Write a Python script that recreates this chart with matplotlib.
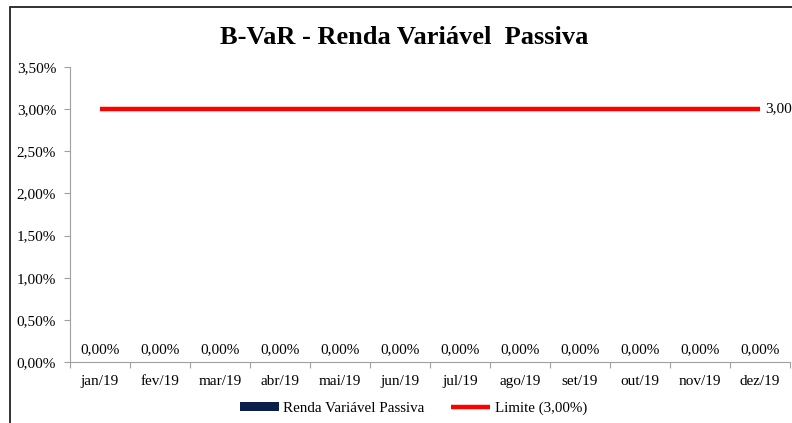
import numpy as np
import matplotlib.pyplot as plt
from matplotlib.patches import Rectangle
from matplotlib.ticker import FixedLocator, FuncFormatter

meses = ['jan/19', 'fev/19', 'mar/19', 'abr/19', 'mai/19', 'jun/19',
         'jul/19', 'ago/19', 'set/19', 'out/19', 'nov/19', 'dez/19']
bvar = [0.0] * 12          # Renda Variável Passiva
limite = [0.03] * 12       # Limite (3,00%)
yticks = [0, 0.005, 0.01, 0.015, 0.02, 0.025, 0.03, 0.035]

plt.rcParams['font.family'] = ['Liberation Serif', 'DejaVu Serif']


def pct(v, pos=None):
    return '{:.2f}%'.format(v * 100).replace('.', ',')


W, H = 792, 423
fig = plt.figure(figsize=(W / 100, H / 100), dpi=100)
ax = fig.add_axes([70 / W, 1 - 362 / H, 720 / W, 295 / H])

# outer chart frame (cut by the image edge, like the reference)
fig.patches.append(Rectangle((10 / W, -0.1), 1.2, 1 - 7 / H + 0.1,
                             transform=fig.transFigure, fill=False,
                             edgecolor='#222222', linewidth=1.3))

x = np.arange(len(meses))
barras = ax.bar(x, bvar, width=0.6, color='#0b1f4b',
                label='Renda Variável Passiva')
linha, = ax.plot(x, limite, color='#ff0000', linewidth=3.2,
                 solid_capstyle='butt', label='Limite (3,00%)')

for xi, v in zip(x, bvar):
    ax.text(xi, v + 0.0007, pct(v), ha='center', va='bottom', fontsize=11)
ax.text(x[-1] + 0.08, limite[-1], pct(limite[-1]), ha='left', va='center',
        fontsize=11, clip_on=False)

ax.set_xlim(-0.5, len(meses) - 0.5)
ax.set_ylim(0, 0.035)
ax.yaxis.set_major_locator(FixedLocator(yticks))
ax.yaxis.set_major_formatter(FuncFormatter(pct))

ax.set_xticks(np.arange(len(meses) + 1) - 0.5)
ax.set_xticklabels([])
ax.set_xticks(x, minor=True)
ax.set_xticklabels(meses, minor=True)
ax.tick_params(axis='x', which='minor', length=0, pad=9, labelsize=11)
ax.tick_params(axis='x', which='major', length=4, color='#a0a0a0')
ax.tick_params(axis='y', length=4, color='#a0a0a0', labelsize=11, pad=6)

for s in ['top', 'right']:
    ax.spines[s].set_visible(False)
for s in ['left', 'bottom']:
    ax.spines[s].set_color('#a0a0a0')

fig.text(0.51, 1 - 37 / H, 'B-VaR - Renda Variável  Passiva', ha='center',
         va='center', fontsize=19, fontweight='bold')

fig.legend([barras, linha], ['Renda Variável Passiva', 'Limite (3,00%)'],
           loc='center', bbox_to_anchor=(0.522, 1 - 408 / H), ncol=2,
           frameon=False, fontsize=10.8, handlelength=2.6, handleheight=0.5,
           columnspacing=1.8, handletextpad=0.3)

fig.savefig('out.png', dpi=100)
